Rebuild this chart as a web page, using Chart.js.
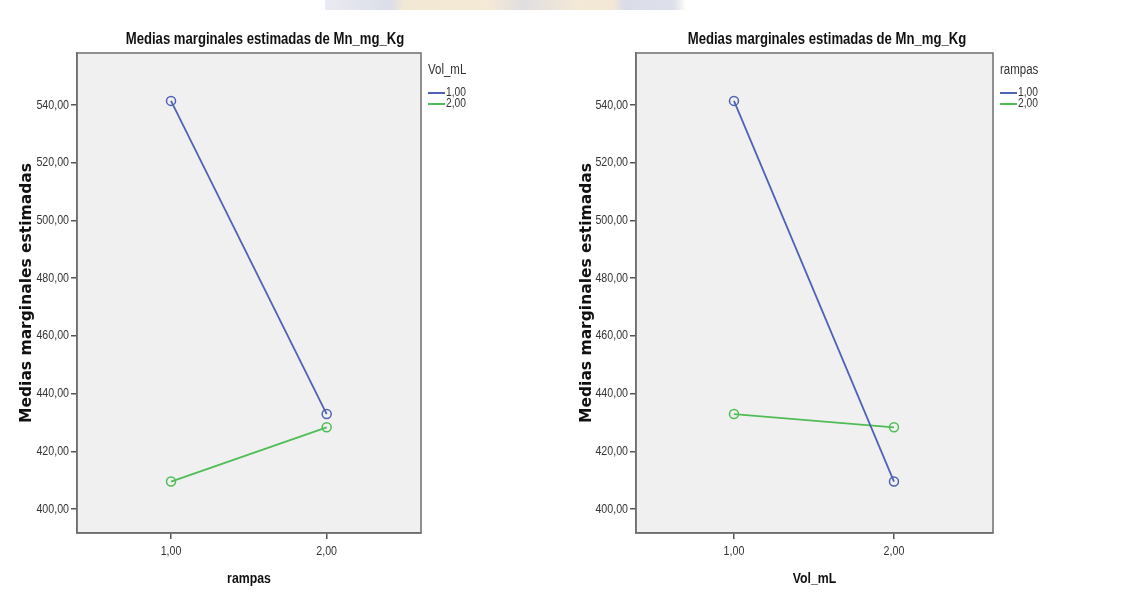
<!DOCTYPE html>
<html>
<head>
<meta charset="utf-8">
<script src="https://cdn.jsdelivr.net/npm/chart.js@4.4.1/dist/chart.umd.min.js"></script>
<style>
html,body{margin:0;padding:0;background:#fff;width:1127px;height:601px;overflow:hidden;position:relative}
#c1{position:absolute;left:0;top:0}
#c2{position:absolute;left:560px;top:0}
#wm{position:absolute;left:325px;top:0;width:360px;height:10px;
 background:linear-gradient(90deg,#e4e5ee 0%,#d2d5e3 18%,#eee2c8 22%,#f1e4cb 45%,#d9d6d8 55%,#f0e3cc 70%,#efe2cb 80%,#d0d3e2 83%,#d6d9e6 97%,#fbfbf6 100%);opacity:.8}
</style>
</head>
<body>
<div id="wm"></div>
<canvas id="c1" width="560" height="601"></canvas>
<canvas id="c2" width="567" height="601"></canvas>
<script>
// ---- data ----
const categories = [1, 2];
const yTickValues = [400, 420, 440, 460, 480, 500, 520, 540];
const seriesLabels = ['1,00', '2,00'];
// Left chart: x = rampas, lines = Vol_mL
const vol1ByRampas = [541.4, 432.9];
const vol2ByRampas = [409.5, 428.3];
// Right chart: x = Vol_mL, lines = rampas
const rampas1ByVol = [541.4, 409.5];
const rampas2ByVol = [432.9, 428.3];
const chartTitle = 'Medias marginales estimadas de Mn_mg_Kg';
const yAxisTitle = 'Medias marginales estimadas';

// ---- styles ----
const BLUE = '#4e62b6';
const GREEN = '#4fbd55';
const SANS = "'Liberation Sans', Arial, sans-serif";
const NARROW_X = 0.82;
const fmt = v => Number(v).toFixed(2).replace('.', ',');

function drawNarrow(ctx, text, x, y, font, align, color) {
  ctx.save();
  ctx.translate(x, y);
  ctx.scale(NARROW_X, 1);
  ctx.font = font;
  ctx.fillStyle = color;
  ctx.textAlign = align;
  ctx.textBaseline = 'middle';
  ctx.fillText(text, 0, 0);
  ctx.restore();
}

const spssPlugin = {
  id: 'spss',
  beforeDraw(chart) {
    const a = chart.chartArea, ctx = chart.ctx;
    ctx.save();
    ctx.fillStyle = '#f0f0f0';
    ctx.fillRect(a.left, a.top, a.right - a.left, a.bottom - a.top);
    ctx.restore();
  },
  beforeDatasetsDraw(chart) {
    const a = chart.chartArea, ctx = chart.ctx;
    ctx.save();
    ctx.strokeStyle = '#6e6e6e';
    ctx.lineWidth = 1.5;
    ctx.strokeRect(a.left, a.top, a.right - a.left, a.bottom - a.top);
    ctx.restore();
  },
  afterDraw(chart, args, opts) {
    const a = chart.chartArea, ctx = chart.ctx;
    const xs = chart.scales.x, ys = chart.scales.y;
    // title
    drawNarrow(ctx, chartTitle, opts.titleX, 40, 'bold 16px ' + SANS, 'center', '#111');
    // tick labels
    xs.ticks.forEach(t => drawNarrow(ctx, fmt(t.value), xs.getPixelForValue(t.value), a.bottom + 18, '13px ' + SANS, 'center', '#333'));
    ys.ticks.forEach(t => drawNarrow(ctx, fmt(t.value), a.left - 8, ys.getPixelForValue(t.value), '13px ' + SANS, 'right', '#333'));
    // x axis title
    drawNarrow(ctx, opts.xTitle, (a.left + a.right) / 2, 579, 'bold 15px ' + SANS, 'center', '#111');
    // legend
    const lx = a.right + opts.legendGap;
    drawNarrow(ctx, opts.legendTitle, lx, 70, '14px ' + SANS, 'left', '#333');
    chart.data.datasets.forEach((ds, i) => {
      const y = 93 + i * 11;
      ctx.save();
      ctx.strokeStyle = ds.borderColor;
      ctx.lineWidth = 2;
      ctx.beginPath();
      ctx.moveTo(lx, y);
      ctx.lineTo(lx + 17, y);
      ctx.stroke();
      ctx.restore();
      drawNarrow(ctx, ds.label, lx + 18, y, '12.5px ' + SANS, 'left', '#333');
    });
  }
};

function build(id, W, H, area, xMin, xMax, xTitle, legendTitle, s1, s2, titleX) {
  const pts = arr => categories.map((c, i) => ({ x: c, y: arr[i] }));
  const ds = (label, arr, color) => ({
    label, data: pts(arr), showLine: true,
    borderColor: color, backgroundColor: 'rgba(0,0,0,0)', borderWidth: 1.8,
    pointRadius: 4.5, pointBorderWidth: 1.5, pointBorderColor: color,
    pointBackgroundColor: 'rgba(0,0,0,0)'
  });
  new Chart(document.getElementById(id), {
    type: 'scatter',
    data: { datasets: [ds(seriesLabels[0], s1, BLUE), ds(seriesLabels[1], s2, GREEN)] },
    options: {
      responsive: false, animation: false,
      layout: { padding: { top: area.top, right: W - area.right, left: 0, bottom: 0 } },
      plugins: {
        legend: { display: false }, tooltip: { enabled: false }, title: { display: false },
        spss: { titleX, legendTitle, xTitle, legendGap: 7 }
      },
      scales: {
        x: {
          type: 'linear', min: xMin, max: xMax,
          afterBuildTicks: s => { s.ticks = categories.map(v => ({ value: v })); },
          afterFit: s => { s.height = H - area.bottom; },
          ticks: { display: false },
          grid: { drawOnChartArea: false, drawTicks: true, tickLength: 6, color: '#555', lineWidth: 1.5 },
          border: { display: true, color: '#6e6e6e', width: 1.5 },
          title: { display: false }
        },
        y: {
          type: 'linear', min: 391.68, max: 558,
          afterBuildTicks: s => { s.ticks = yTickValues.map(v => ({ value: v })); },
          afterFit: s => { s.width = area.left; },
          ticks: { display: false },
          grid: { drawOnChartArea: false, drawTicks: true, tickLength: 6, color: '#555', lineWidth: 1.5 },
          border: { display: true, color: '#6e6e6e', width: 1.5 },
          title: { display: true, text: yAxisTitle, color: '#111', font: { family: 'DejaVu Sans', size: 15.5, weight: 'bold' }, padding: { top: 18, bottom: 4 } }
        }
      }
    },
    plugins: [spssPlugin]
  });
}

build('c1', 560, 601, { left: 77, right: 421, top: 53, bottom: 533 }, 0.396, 2.606,
      'rampas', 'Vol_mL', vol1ByRampas, vol2ByRampas, 265);
build('c2', 567, 601, { left: 76, right: 433, top: 53, bottom: 533 }, 0.3875, 2.619,
      'Vol_mL', 'rampas', rampas1ByVol, rampas2ByVol, 267);
</script>
</body>
</html>
